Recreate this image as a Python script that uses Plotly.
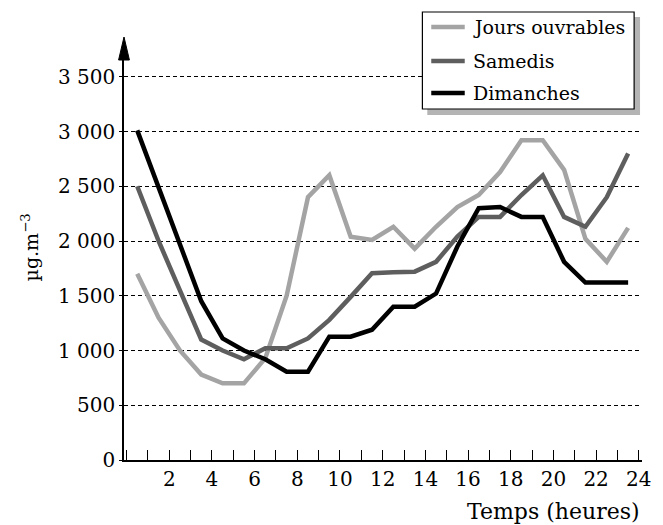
import plotly.graph_objects as go

# ---- data ----
hours = [h + 0.5 for h in range(24)]
jours_ouvrables = [1700, 1300, 1000, 780, 700, 700, 930, 1500, 2400, 2600, 2040, 2010,
                   2130, 1930, 2130, 2310, 2420, 2630, 2920, 2920, 2650, 2020, 1810, 2120]
samedis = [2500, 2000, 1550, 1100, 1000, 920, 1020, 1020, 1110, 1280, 1490, 1705,
           1715, 1720, 1810, 2040, 2220, 2220, 2420, 2600, 2220, 2130, 2400, 2800]
dimanches = [3010, 2480, 1960, 1450, 1110, 1000, 920, 806, 806, 1126, 1126, 1190,
             1400, 1400, 1520, 1950, 2300, 2310, 2220, 2220, 1810, 1620, 1620, 1620]

series_names = ["Jours ouvrables", "Samedis", "Dimanches"]
series_colors = ["#a4a4a4", "#5e5e5e", "#000000"]

y_tickvals = [0, 500, 1000, 1500, 2000, 2500, 3000, 3500]
y_ticktext = ["0", "500", "1 000", "1 500", "2 000", "2 500", "3 000", "3 500"]
x_tickvals = list(range(2, 25, 2))
x_ticktext = [str(v) for v in x_tickvals]

FONT = "DejaVu Serif"

# page body has an 8px margin: work in reference (window) pixels and shift
OFF = 8
W, H = 663 - OFF, 525 - OFF
PLOT_L, PLOT_R, PLOT_T, PLOT_B = 124, 650, 60, 460   # window pixels
L, T = PLOT_L - OFF, PLOT_T - OFF
R = W - (PLOT_R - OFF)
B = H - (PLOT_B - OFF)
PW, PH = PLOT_R - PLOT_L, PLOT_B - PLOT_T


def px(x):
    return (x - PLOT_L) / PW


def py(y):
    return (PLOT_B - y) / PH


fig = go.Figure()
for name, vals, col in zip(series_names, [jours_ouvrables, samedis, dimanches], series_colors):
    fig.add_trace(go.Scatter(x=hours, y=vals, mode="lines", name=name,
                             line=dict(color=col, width=4.5), showlegend=False))

shapes = [
    # arrow head on y axis
    dict(type="path", xref="paper", yref="paper",
         path=f"M {px(118.5)} {py(60)} L {px(129.5)} {py(60)} L {px(124)} {py(37)} Z",
         fillcolor="black", line=dict(color="black", width=1), layer="above"),
    # legend shadow
    dict(type="rect", xref="paper", yref="paper", x0=px(432), x1=px(648), y0=py(115), y1=py(17),
         fillcolor="#b4b4b4", line=dict(width=0), layer="above"),
    # legend box
    dict(type="rect", xref="paper", yref="paper", x0=px(427), x1=px(642), y0=py(109), y1=py(12),
         fillcolor="white", line=dict(color="black", width=1.2), layer="above"),
]
annotations = []
rows_y = [27, 61, 93]
for name, col, ry in zip(series_names, series_colors, rows_y):
    shapes.append(dict(type="line", xref="paper", yref="paper", x0=px(436), x1=px(470),
                       y0=py(ry), y1=py(ry), line=dict(color=col, width=4.5), layer="above"))
    annotations.append(dict(text=name, xref="paper", yref="paper", x=px(476), y=py(ry),
                            xanchor="left", yanchor="middle", showarrow=False,
                            font=dict(family=FONT, size=19, color="black")))

annotations.append(dict(text="µg.m<sup>−3</sup>", xref="paper", yref="paper", x=px(29), y=py(247),
                        textangle=-90, xanchor="center", yanchor="middle", showarrow=False,
                        font=dict(family=FONT, size=19, color="black")))
annotations.append(dict(text="Temps (heures)", xref="paper", yref="paper", x=px(650), y=py(511),
                        xanchor="right", yanchor="middle", showarrow=False,
                        font=dict(family=FONT, size=22, color="black")))

fig.update_layout(
    width=W, height=H,
    margin=dict(l=L, r=R, t=T, b=B),
    paper_bgcolor="white", plot_bgcolor="white",
    shapes=shapes, annotations=annotations,
    showlegend=False,
    xaxis=dict(range=[-0.12, 24.15], tickvals=x_tickvals, ticktext=x_ticktext,
               ticks="inside", ticklen=10, tickwidth=1.2, tickcolor="black",
               minor=dict(dtick=1, tick0=0, ticks="inside", ticklen=10, tickwidth=1.2,
                          tickcolor="black", showgrid=False),
               showline=True, linecolor="black", linewidth=1.5, showgrid=False, zeroline=False,
               tickfont=dict(family=FONT, size=20, color="black")),
    yaxis=dict(range=[0, 3653], tickvals=y_tickvals, ticktext=y_ticktext,
               ticks="outside", ticklen=3, tickcolor="black",
               showline=True, linecolor="black", linewidth=1.5,
               showgrid=True, gridcolor="black", gridwidth=1, griddash="4px,3px", zeroline=False,
               tickfont=dict(family=FONT, size=20, color="black")),
)

fig.write_html("out.html")
